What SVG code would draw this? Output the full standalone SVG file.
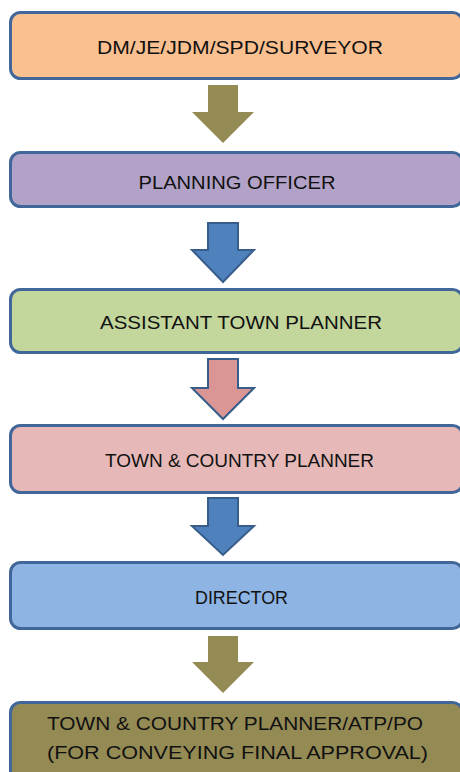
<svg xmlns="http://www.w3.org/2000/svg" width="460" height="772" viewBox="0 0 460 772">
<style>
.box{stroke:#41679A;stroke-width:3}
.t{font-family:"Liberation Sans",Arial,sans-serif;font-size:19px;fill:#111111;text-anchor:middle}
.ol{fill:#948A54}
.bl{fill:#4F81BD;stroke:#385D8A;stroke-width:2}
.pk{fill:#D99694;stroke:#385D8A;stroke-width:2}
</style>
<rect width="460" height="772" fill="#ffffff"/>
<g id="connectors">
<polygon class="ol" points="208,85 238,85 238,112 254,112 223,143 192,112 208,112"/>
<polygon class="bl" points="208,223 238,223 238,250 254,250 223,282 192,250 208,250"/>
<polygon class="pk" points="208,359 238,359 238,388 254,388 223,419 192,388 208,388"/>
<polygon class="bl" points="208,498 238,498 238,526 254,526 223,555 192,526 208,526"/>
<polygon class="ol" points="208,636 238,636 238,662 254,662 223,693 192,662 208,662"/>
</g>
<g id="n1">
<rect class="box" x="10.5" y="12.5" width="452" height="66" rx="10" fill="#FAC090"/>
<text class="t" x="240" y="54" textLength="286" lengthAdjust="spacingAndGlyphs">DM/JE/JDM/SPD/SURVEYOR</text>
</g>
<g id="n2">
<rect class="box" x="10.5" y="152.5" width="452" height="54" rx="10" fill="#B3A2C7"/>
<text class="t" x="237" y="188.5" textLength="197" lengthAdjust="spacingAndGlyphs">PLANNING OFFICER</text>
</g>
<g id="n3">
<rect class="box" x="10.5" y="289.5" width="452" height="63" rx="10" fill="#C3D69B"/>
<text class="t" x="241" y="329" textLength="282" lengthAdjust="spacingAndGlyphs">ASSISTANT  TOWN PLANNER</text>
</g>
<g id="n4">
<rect class="box" x="10.5" y="425.5" width="452" height="67" rx="10" fill="#E6B9B8"/>
<text class="t" x="239.5" y="467" textLength="269" lengthAdjust="spacingAndGlyphs">TOWN &amp; COUNTRY PLANNER</text>
</g>
<g id="n5">
<rect class="box" x="10.5" y="562.5" width="452" height="66" rx="10" fill="#8EB4E3"/>
<text class="t" x="241.5" y="604" textLength="93" lengthAdjust="spacingAndGlyphs">DIRECTOR</text>
</g>
<g id="n6">
<rect class="box" x="10.5" y="702.5" width="452" height="80" rx="10" fill="#948A54"/>
<text class="t" x="235" y="730" textLength="376" lengthAdjust="spacingAndGlyphs">TOWN &amp; COUNTRY PLANNER/ATP/PO</text>
<text class="t" x="237.5" y="759" textLength="381" lengthAdjust="spacingAndGlyphs">(FOR CONVEYING  FINAL APPROVAL)</text>
</g>
</svg>
